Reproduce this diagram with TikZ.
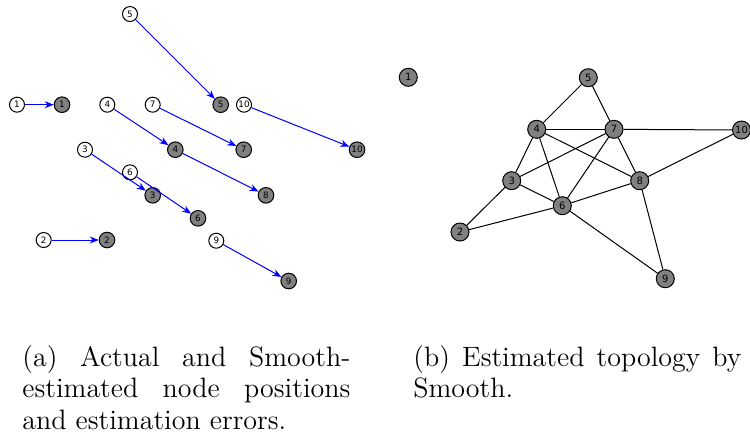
\documentclass[tikz,border=0pt]{standalone}
\usepackage{fontspec}
\newfontfamily\lblfont{DejaVu Sans}
\usetikzlibrary{arrows.meta}
\begin{document}
\begin{tikzpicture}[x=0.5pt,y=-0.5pt,
  actual/.style={circle,draw=black,fill=white,line width=0.5pt,minimum size=7.5pt,inner sep=0pt,font=\lblfont\fontsize{4.4}{5}\selectfont},
  est/.style={circle,draw=black,fill=gray,line width=0.5pt,minimum size=7.8pt,inner sep=0pt,font=\lblfont\fontsize{4.4}{5}\selectfont},
  topo/.style={circle,draw=black,fill=gray,line width=0.5pt,minimum size=9pt,inner sep=0pt,font=\lblfont\fontsize{5}{6}\selectfont},
  err/.style={blue,line width=0.5pt,-{Stealth[length=4.5pt,width=3.5pt]}},
  link/.style={black,line width=0.5pt},
  capt/.style={anchor=north west,inner sep=0pt,text width=164pt,align=justify,font=\fontsize{14}{15.75}\selectfont}]
\useasboundingbox (0,0) rectangle (750,436);
% left panel: actual positions
\node[actual] (a1) at (17,104.7) {1};
\node[actual] (a2) at (43.7,240) {2};
\node[actual] (a3) at (85,149.7) {3};
\node[actual] (a4) at (107.3,104.7) {4};
\node[actual] (a5) at (130,14) {5};
\node[actual] (a6) at (130,172.3) {6};
\node[actual] (a7) at (152.7,104.7) {7};
\node[actual] (a9) at (216.3,240.7) {9};
\node[actual] (a10) at (244,104.7) {10};
% estimated positions
\node[est] (e1) at (62,104.7) {1};
\node[est] (e2) at (107,240) {2};
\node[est] (e3) at (152.7,195.3) {3};
\node[est] (e4) at (175.3,149.7) {4};
\node[est] (e5) at (220.7,104.7) {5};
\node[est] (e6) at (198,218.3) {6};
\node[est] (e7) at (243.7,149.7) {7};
\node[est] (e8) at (266,195.3) {8};
\node[est] (e9) at (288.7,281) {9};
\node[est] (e10) at (357,149.7) {10};
% errors
\draw[err] (a1) -- (e1);
\draw[err] (a2) -- (e2);
\draw[err] (a3) -- (e3);
\draw[err] (a4) -- (e4);
\draw[err] (a5) -- (e5);
\draw[err] (a6) -- (e6);
\draw[err] (a7) -- (e7);
\draw[err] (e4) -- (e8);
\draw[err] (a9) -- (e9);
\draw[err] (a10) -- (e10);
% right panel: topology
\node[topo] (t1) at (408.3,77.3) {1};
\node[topo] (t2) at (460,232) {2};
\node[topo] (t3) at (511.7,180.7) {3};
\node[topo] (t4) at (536.7,129.3) {4};
\node[topo] (t5) at (588.3,77.7) {5};
\node[topo] (t6) at (562.3,205.7) {6};
\node[topo] (t7) at (614,129.3) {7};
\node[topo] (t8) at (639.7,180.7) {8};
\node[topo] (t9) at (665.3,278.7) {9};
\node[topo] (t10) at (741.5,130) {10};
\foreach \u/\v in {5/4,5/7,4/7,7/10,4/3,4/6,4/8,7/3,7/6,7/8,3/6,3/2,2/6,6/8,8/10,8/9,6/9}
  \draw[link] (t\u) -- (t\v);
% captions
\node[capt] (ca) at (22,345) {(a) Actual and Smooth-estimated node positions and estimation errors.};
\node[capt] (cb) at (413,345) {(b) Estimated topology by Smooth.};
\end{tikzpicture}
\end{document}
